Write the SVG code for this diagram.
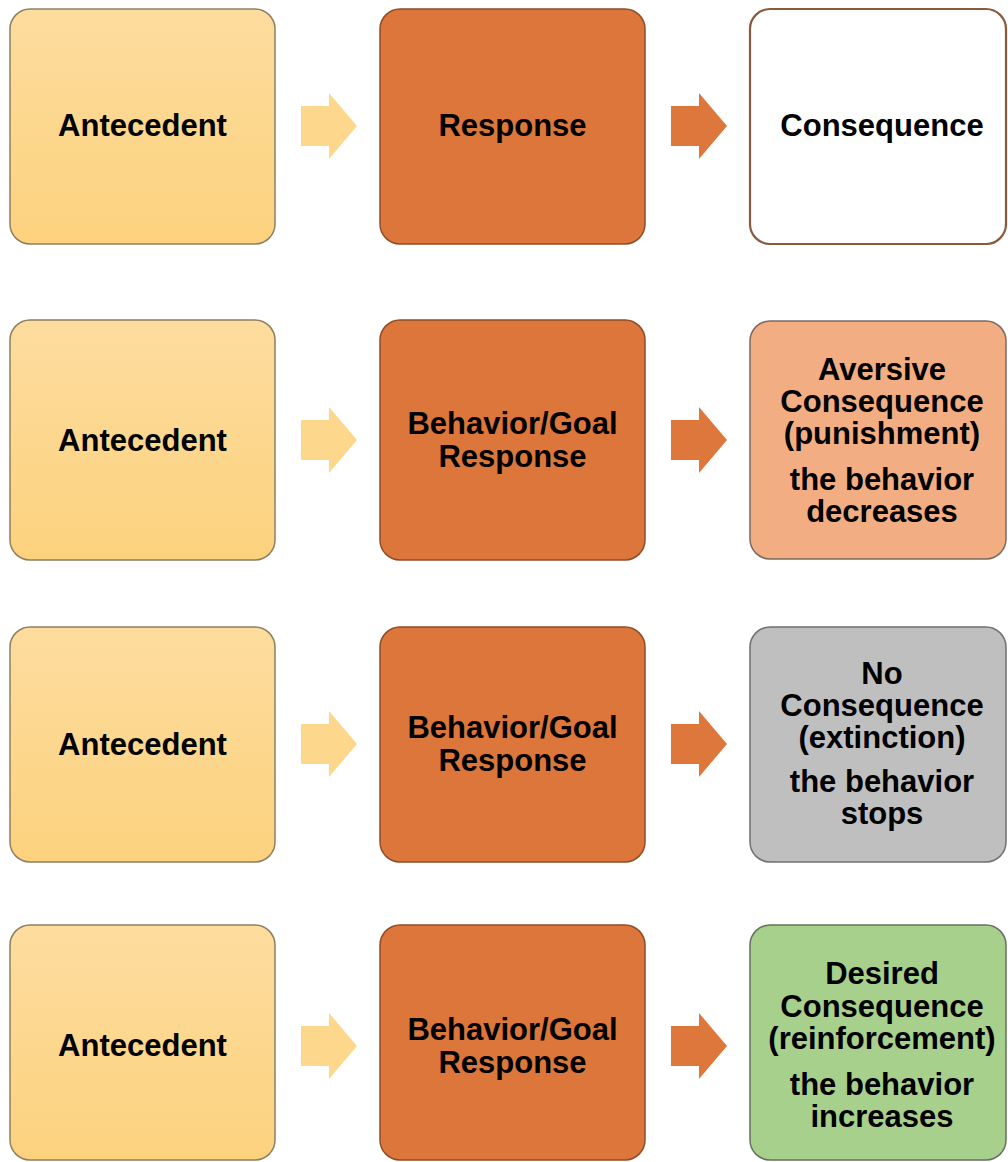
<svg xmlns="http://www.w3.org/2000/svg" width="1008" height="1162" viewBox="0 0 1008 1162">
<defs>
<linearGradient id="gAnte" x1="0" y1="0" x2="0" y2="1">
<stop offset="0" stop-color="#FDDC9E"/>
<stop offset="1" stop-color="#FCD27E"/>
</linearGradient>
<style>
.box{stroke-width:1.5}
.ante{fill:url(#gAnte);stroke:#8C8060}
.resp{fill:#DD763B;stroke:#8E4C28}
.cons{fill:#FFFFFF;stroke:#8A5A3E;stroke-width:2.2}
.avers{fill:#F2AE82;stroke:#7A6A60}
.none{fill:#BFBFBF;stroke:#707070}
.desired{fill:#A8D08D;stroke:#667060}
.a1{fill:#FDD88C}
.a2{fill:#DE773B}
text{font-family:"Liberation Sans",Arial,sans-serif;font-weight:bold;font-size:31px;fill:#000;text-anchor:middle}
</style>
<path id="arrow" d="M0,-20 H28 V-33 L56,0 L28,33 V20 H0 Z"/>
</defs>
<rect width="1008" height="1162" fill="#FFFFFF"/>

<!-- Row 1 -->
<g id="r1-antecedent"><rect class="box ante" x="10" y="9" width="265" height="235" rx="20"/><text x="142.5" y="136">Antecedent</text></g>
<g id="r1-response"><rect class="box resp" x="380" y="9" width="265" height="235" rx="20"/><text x="512.5" y="136">Response</text></g>
<g id="r1-consequence"><rect class="box cons" x="750" y="9" width="256" height="235" rx="20"/><text x="882" y="136">Consequence</text></g>

<!-- Row 2 -->
<g id="r2-antecedent"><rect class="box ante" x="10" y="320" width="265" height="240" rx="20"/><text x="142.5" y="451">Antecedent</text></g>
<g id="r2-response"><rect class="box resp" x="380" y="320" width="265" height="240" rx="20"/><text x="512.5" y="434">Behavior/Goal</text><text x="512.5" y="467">Response</text></g>
<g id="r2-consequence"><rect class="box avers" x="750" y="321" width="256" height="238" rx="20"/>
<text x="882" y="380">Aversive</text><text x="882" y="412">Consequence</text><text x="882" y="444">(punishment)</text><text x="882" y="490">the behavior</text><text x="882" y="522">decreases</text></g>

<!-- Row 3 -->
<g id="r3-antecedent"><rect class="box ante" x="10" y="627" width="265" height="235" rx="20"/><text x="142.5" y="755">Antecedent</text></g>
<g id="r3-response"><rect class="box resp" x="380" y="627" width="265" height="235" rx="20"/><text x="512.5" y="738">Behavior/Goal</text><text x="512.5" y="771">Response</text></g>
<g id="r3-consequence"><rect class="box none" x="750" y="627" width="256" height="235" rx="20"/>
<text x="882" y="684">No</text><text x="882" y="716">Consequence</text><text x="882" y="748">(extinction)</text><text x="882" y="792">the behavior</text><text x="882" y="824">stops</text></g>

<!-- Row 4 -->
<g id="r4-antecedent"><rect class="box ante" x="10" y="925" width="265" height="235" rx="20"/><text x="142.5" y="1056">Antecedent</text></g>
<g id="r4-response"><rect class="box resp" x="380" y="925" width="265" height="235" rx="20"/><text x="512.5" y="1040">Behavior/Goal</text><text x="512.5" y="1073">Response</text></g>
<g id="r4-consequence"><rect class="box desired" x="750" y="925" width="256" height="235" rx="20"/>
<text x="882" y="984">Desired</text><text x="882" y="1017">Consequence</text><text x="882" y="1049">(reinforcement)</text><text x="882" y="1095">the behavior</text><text x="882" y="1127">increases</text></g>

<g id="connectors">
<use href="#arrow" class="a1" x="301" y="126"/>
<use href="#arrow" class="a2" x="671" y="126"/>
<use href="#arrow" class="a1" x="301" y="440"/>
<use href="#arrow" class="a2" x="671" y="440"/>
<use href="#arrow" class="a1" x="301" y="744"/>
<use href="#arrow" class="a2" x="671" y="744"/>
<use href="#arrow" class="a1" x="301" y="1046"/>
<use href="#arrow" class="a2" x="671" y="1046"/>
</g>
</svg>
